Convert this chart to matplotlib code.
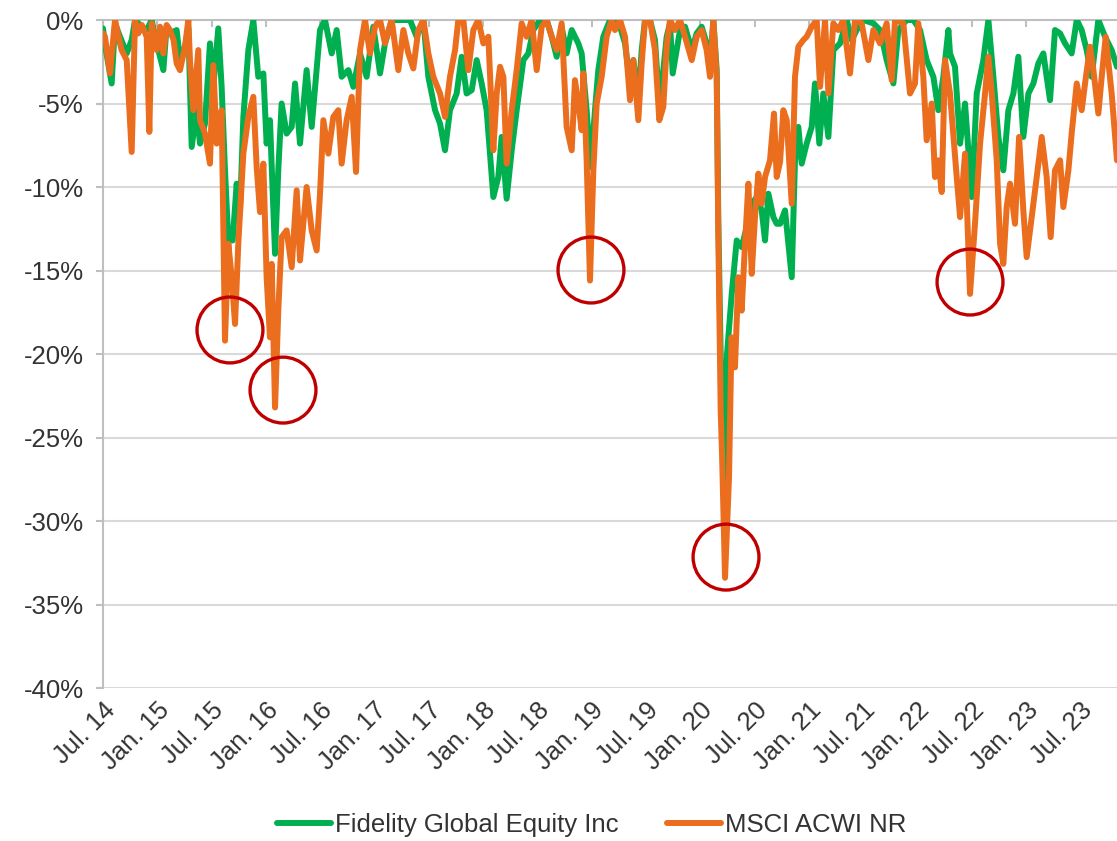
import matplotlib
matplotlib.use("Agg")
import matplotlib.pyplot as plt
from matplotlib.transforms import ScaledTranslation

# x = months since Jul. 2014, y = drawdown in %
fund_months = [0.0, 0.22, 0.96, 1.33, 1.88, 2.62, 3.17, 3.54, 4.30, 4.83, 5.38, 5.93, 6.67, 7.03,
               7.40, 8.14, 8.51, 9.06, 9.43, 9.80, 10.35, 10.72, 11.27, 11.82, 12.19, 12.74, 13.11,
               13.48, 13.85, 14.33, 14.77, 15.14, 15.51, 16.06, 16.61, 17.16, 17.72, 18.08, 18.45,
               18.82, 19.01, 19.37, 19.74, 20.29, 20.85, 21.22, 21.77, 22.50, 23.06, 23.98, 24.53,
               25.27, 25.82, 26.37, 27.11, 27.66, 28.40, 29.13, 29.87, 30.61, 31.16, 31.90, 32.82,
               33.92, 34.66, 35.40, 35.95, 36.69, 37.24, 37.79, 38.34, 39.08, 39.63, 40.18, 40.74,
               41.29, 41.84, 42.39, 43.13, 43.68, 44.05, 44.60, 45.16, 45.71, 46.45, 47.00, 47.55,
               48.29, 49.02, 49.58, 50.13, 50.68, 51.23, 51.79, 52.52, 52.89, 53.44, 53.89, 54.36,
               54.73, 55.28, 56.02, 56.57, 57.13, 57.68, 58.23, 58.60, 59.15, 59.52, 59.89, 60.44,
               60.99, 61.47, 61.91, 62.28, 62.65, 62.95, 63.76, 64.31, 65.05, 65.60, 66.15, 66.70,
               67.07, 67.44, 67.81, 67.99, 68.25, 68.73, 68.95, 69.47, 70.02, 70.57, 71.12, 71.68,
               72.23, 72.78, 73.15, 73.52, 74.07, 74.44, 74.81, 75.36, 76.10, 76.46, 76.83, 77.20,
               77.75, 78.31, 78.67, 79.15, 79.59, 80.15, 80.70, 81.44, 82.17, 82.73, 83.28, 84.01,
               85.12, 85.86, 86.59, 87.33, 87.88, 88.80, 89.54, 90.28, 91.01, 91.75, 92.30, 92.85,
               93.41, 93.59, 94.14, 94.70, 95.25, 95.99, 96.54, 97.27, 97.83, 98.38, 98.93, 99.48,
               100.04, 100.59, 101.14, 101.69, 102.25, 102.80, 103.35, 103.90, 104.64, 105.19,
               105.75, 106.30, 107.03, 107.59, 108.14, 108.69, 109.24, 109.98, 110.72, 111.45, 112.04]
fund_dd = [-0.5, -1.5, -3.8, -0.2, -1.0, -2.0, -1.2, 0.0, -0.4, -0.6, 0.0, -1.4, -3.0, -0.4,
           -0.8, -0.6, -2.4, -1.6, -0.5, -7.6, -5.4, -7.4, -6.2, -1.4, -4.0, -0.5, -4.0,
           -9.0, -13.2, -13.2, -9.8, -11.4, -5.8, -1.8, 0.0, -3.4, -3.2, -7.4, -6.0,
           -11.4, -14.0, -9.0, -5.0, -6.8, -6.4, -3.8, -7.4, -3.0, -6.4, -0.6, 0.0,
           -2.0, -0.6, -3.4, -3.0, -4.0, -2.0, -3.4, -0.4, -3.2, -1.4, 0.0, 0.0,
           0.0, -1.0, 0.0, -3.4, -5.4, -6.2, -7.8, -5.4, -4.4, -2.2, -4.4, -4.2,
           -2.4, -3.8, -5.4, -10.6, -9.4, -7.0, -10.7, -7.8, -5.4, -2.4, -2.0, -0.6,
           0.0, 0.0, -1.0, -2.2, -0.4, -2.0, -0.6, -1.4, -2.0, -5.4, -8.8, -5.4,
           -3.0, -1.0, 0.0, 0.0, -0.4, -1.4, -3.8, -2.4, -4.8, -1.8, 0.0, 0.0,
           -1.2, -5.0, -3.0, -1.0, -0.2, -3.2, -0.6, -0.4, -1.8, -0.8, -0.4, -1.4,
           -2.8, 0.0, -3.0, -12.0, -20.0, -29.0, -20.0, -16.4, -13.2, -13.6, -12.4, -11.0,
           -10.6, -11.4, -13.2, -10.4, -11.8, -12.2, -12.2, -11.4, -15.4, -8.4, -6.4, -8.6,
           -7.4, -6.4, -3.8, -7.4, -4.4, -7.0, -1.8, -1.4, 0.0, -1.2, -0.6, 0.0,
           -0.2, -0.6, -2.4, -3.8, -0.6, 0.0, 0.0, -0.6, -2.4, -3.4, -5.4, -3.4,
           -0.6, -2.0, -2.8, -7.4, -5.0, -10.6, -4.4, -2.4, 0.0, -3.4, -7.0, -9.0,
           -5.4, -4.4, -2.2, -7.0, -4.4, -3.8, -2.6, -2.0, -4.8, -0.6,
           -0.8, -1.4, -2.0, 0.0, -0.6, -1.8, -3.4, 0.0, -1.0, -1.8, -2.8]

index_months = [0.0, 0.22, 0.77, 1.33, 1.88, 2.06, 2.62, 3.17, 3.54, 3.90, 4.30, 4.83, 5.12, 5.38,
                5.93, 6.30, 6.67, 7.03, 7.40, 7.80, 8.14, 8.51, 9.06, 9.43, 9.61, 9.98, 10.53,
                10.72, 11.27, 11.82, 12.19, 12.56, 13.11, 13.48, 13.85, 14.22, 14.59, 14.95,
                15.51, 16.06, 16.61, 16.98, 17.35, 17.72, 18.08, 18.45, 18.64, 19.01, 19.37,
                19.74, 20.29, 20.85, 21.40, 21.77, 22.50, 23.06, 23.61, 23.98, 24.35, 24.90,
                25.45, 26.00, 26.37, 26.92, 27.48, 27.96, 28.40, 28.95, 29.50, 30.06, 30.61,
                31.16, 31.90, 32.63, 33.19, 33.74, 34.29, 34.84, 35.40, 35.95, 36.50, 37.24,
                37.79, 38.34, 38.90, 39.26, 39.82, 40.37, 40.92, 41.47, 42.03, 42.58, 43.13,
                43.50, 43.87, 44.24, 44.60, 45.16, 45.71, 46.26, 46.81, 47.37, 47.92, 48.47,
                49.02, 49.58, 50.13, 50.68, 51.23, 51.79, 52.15, 52.52, 52.89, 53.08, 53.44,
                53.81, 54.18, 54.55, 55.10, 55.65, 56.21, 56.57, 57.13, 57.68, 58.23, 58.60,
                59.15, 59.52, 59.89, 60.44, 60.99, 61.47, 61.91, 62.28, 62.65, 63.20, 63.76,
                64.31, 65.05, 65.60, 66.15, 66.70, 67.07, 67.44, 67.81, 67.99, 68.25, 68.40,
                68.73, 69.17, 69.45, 69.83, 70.20, 70.57, 70.94, 71.31, 71.68, 72.04, 72.41,
                72.78, 73.15, 73.70, 74.14, 74.44, 74.81, 75.17, 75.55, 76.10, 76.46, 76.83,
                77.38, 77.75, 78.31, 78.86, 79.23, 79.78, 80.15, 80.70, 81.25, 81.80, 82.54,
                83.09, 83.83, 84.57, 85.12, 85.86, 86.59, 87.15, 87.51, 88.43, 89.17, 89.72,
                90.09, 90.64, 91.01, 91.57, 91.93, 92.30, 92.67, 93.04, 93.59, 94.33, 94.70,
                95.25, 95.80, 96.35, 96.91, 97.46, 97.83, 98.20, 98.75, 99.12, 99.48, 99.85,
                100.22, 100.77, 101.22, 101.69, 102.06, 102.62, 103.17, 103.72, 104.27, 104.71,
                105.19, 105.75, 106.11, 106.67, 107.03, 107.59, 108.14, 108.51, 109.06, 109.43,
                109.98, 110.35, 110.79, 111.45, 112.04]
index_dd = [-0.8, -1.0, -3.2, 0.0, -1.4, -1.8, -2.4, -7.9, 0.0, -0.8, -0.3, -1.0, -6.7, -0.2,
            -1.8, -0.4, -2.0, -0.3, -0.6, -1.2, -2.6, -3.0, -1.6, 0.0, -2.4, -5.4, -1.8,
            -6.0, -6.8, -8.6, -2.7, -7.4, -5.4, -19.2, -13.4, -15.4, -18.2, -13.4,
            -8.0, -5.8, -4.6, -8.8, -11.5, -8.6, -15.4, -19.0, -14.6, -23.2, -17.4,
            -13.0, -12.6, -14.8, -10.2, -14.4, -10.0, -12.6, -13.8, -10.4, -6.0, -8.0,
            -5.8, -5.4, -8.6, -6.0, -4.6, -9.1, -1.8, 0.0, -2.0, -0.4, 0.0,
            -1.4, 0.0, -3.0, -0.6, -2.0, -2.9, -0.6, 0.0, -2.0, -3.4, -4.4,
            -5.8, -3.4, -1.8, 0.0, 0.0, -3.0, -0.6, 0.0, -1.4, -1.0, -7.8,
            -4.4, -2.8, -3.4, -8.6, -5.4, -3.0, -0.2, -1.0, 0.0, -3.0, -0.4,
            0.0, -1.0, -1.8, -0.2, -6.4, -7.8, -3.6, -5.0, -6.6, -3.2, -8.4,
            -15.6, -9.0, -5.0, -3.4, -1.0, 0.0, -0.6, 0.0, -1.0, -4.8, -2.4,
            -6.0, -2.6, 0.0, 0.0, -1.8, -6.0, -5.2, -1.6, 0.0, -0.6, 0.0,
            -1.0, -2.4, -1.0, -0.6, -1.8, -3.4, 0.0, -3.4, -13.0, -23.4, -26.0,
            -33.4, -27.4, -19.0, -20.8, -15.4, -17.4, -13.4, -9.8, -15.2, -11.8, -9.2,
            -11.0, -9.4, -8.4, -5.6, -9.4, -8.5, -5.4, -6.0, -11.0, -3.4, -1.6,
            -1.2, -1.0, -0.4, 0.0, -4.0, 0.0, -4.4, -0.2, -0.6, 0.0, -3.2,
            0.0, -0.2, -2.4, -0.6, -1.4, -0.2, -3.6, 0.0, -0.2, -4.4, -3.8,
            -0.2, -3.4, -7.2, -5.0, -9.4, -8.4, -10.3, -2.4, -4.4, -9.4, -11.8,
            -8.0, -16.4, -12.2, -7.4, -4.4, -2.2, -4.4, -8.4, -13.4, -14.6, -11.2,
            -9.8, -12.2, -7.0, -11.4, -14.2, -11.8, -9.4, -7.0, -9.4, -13.0,
            -9.0, -8.4, -11.2, -9.0, -6.8, -3.8, -5.4, -3.8, -1.6, -3.0,
            -5.6, -3.4, -1.0, -4.4, -8.4]

# highlighted drawdowns (circle centres)
circle_months = [14.03, 19.89, 53.92, 68.84, 95.80]
circle_dd = [-18.56, -22.16, -14.97, -32.16, -15.69]

tick_months = list(range(0, 109, 6))
tick_labels = ["Jul. 14", "Jan. 15", "Jul. 15", "Jan. 16", "Jul. 16", "Jan. 17", "Jul. 17",
               "Jan. 18", "Jul. 18", "Jan. 19", "Jul. 19", "Jan. 20", "Jul. 20", "Jan. 21",
               "Jul. 21", "Jan. 22", "Jul. 22", "Jan. 23", "Jul. 23"]

plt.rcParams["font.family"] = ["Liberation Sans", "DejaVu Sans"]
text_col = "#333333"
axis_col = "#BFBFBF"
grid_col = "#D9D9D9"

fig = plt.figure(figsize=(11.17, 8.41), dpi=100)
ax = fig.add_axes([0.0922, 0.1819, 0.9078, 0.7943])

ax.plot(fund_months, fund_dd, color="#00B050", lw=4.3, solid_joinstyle="round",
        solid_capstyle="round", label="Fidelity Global Equity Inc", zorder=3)
ax.plot(index_months, index_dd, color="#EB6D1E", lw=4.3, solid_joinstyle="round",
        solid_capstyle="round", label="MSCI ACWI NR", zorder=4)
ax.scatter(circle_months, circle_dd, s=2250, facecolors="none", edgecolors="#C00000",
           linewidths=2.4, zorder=5)

ax.set_xlim(0, 112.04)
ax.set_ylim(-40, 0)
ax.set_yticks(range(-40, 1, 5))
ax.set_yticklabels([f"{v}%" for v in range(-40, 1, 5)])
ax.set_xticks(tick_months)
ax.set_xticklabels(tick_labels, rotation=45, ha="right", va="top", rotation_mode="anchor")
shift = ScaledTranslation(-0.05, -0.04, fig.dpi_scale_trans)
for lab in ax.get_xticklabels():
    lab.set_transform(lab.get_transform() + shift)

ax.grid(axis="y", color=grid_col, lw=1.5, zorder=0)
ax.set_axisbelow(True)
for side in ["right", "bottom"]:
    ax.spines[side].set_visible(False)
for side in ["left", "top"]:
    ax.spines[side].set_color(axis_col)
    ax.spines[side].set_linewidth(1.5)

ax.tick_params(axis="y", colors=axis_col, labelcolor=text_col, labelsize=18.5,
               length=5, width=1.5, pad=9)
ax.tick_params(axis="x", bottom=False, top=True, labelbottom=True, labeltop=False,
               direction="in", colors=axis_col, labelcolor=text_col, labelsize=18.5,
               length=5, width=1.5, pad=7)

ax.legend(loc="center", bbox_to_anchor=(0.53, 0.019), bbox_transform=fig.transFigure,
          ncol=2, frameon=False, fontsize=18.5, handlelength=2.1, handletextpad=0.15,
          columnspacing=1.9, labelcolor=text_col)

fig.savefig("out.png", dpi=100)
